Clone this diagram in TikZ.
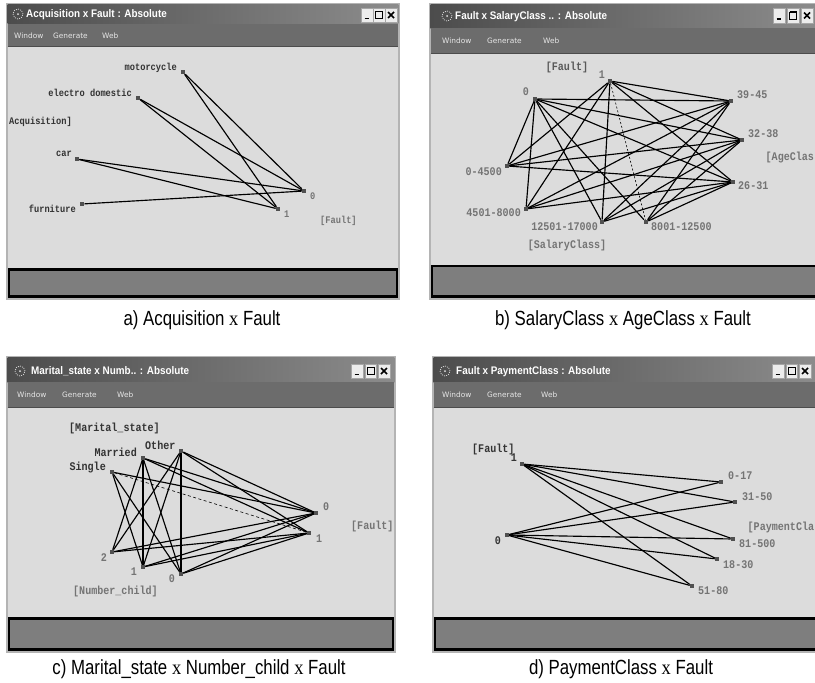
\documentclass[tikz,border=0pt]{standalone}
\usepackage{fontspec}
\setmainfont{Liberation Sans}
\newfontfamily\labfont[FakeStretch=0.86]{Liberation Mono}
\newfontfamily\capfont[FakeStretch=0.82]{Liberation Sans}
\newfontfamily\xfont[FakeStretch=0.9]{Liberation Serif}
\newfontfamily\titlefont[FakeStretch=0.9]{Liberation Sans}
\newfontfamily\menufont{DejaVu Sans}
\usetikzlibrary{calc}

\definecolor{canvasbg}{HTML}{DCDCDC}
\definecolor{tdark}{HTML}{4C4C4C}
\definecolor{tlight}{HTML}{8C8C8C}
\definecolor{menubg}{HTML}{6C6C6C}
\definecolor{statusbg}{HTML}{7E7E7E}
\definecolor{sqgray}{HTML}{505050}
\definecolor{labdark}{HTML}{333333}
\definecolor{labgray}{HTML}{747474}
\definecolor{menutext}{HTML}{E6E6E6}
\definecolor{framegray}{HTML}{B4B4B4}
\definecolor{btnbg}{HTML}{ECECEC}

\tikzset{
  winframe/.style={fill=canvasbg, draw=framegray, line width=1.2pt},
  menubar/.style={fill=menubg},
  statusbox/.style={fill=statusbg, draw=black, line width=2.6pt},
  titletext/.style={anchor=west, inner sep=0pt, text=white, font=\titlefont\bfseries\fontsize{11}{11}\selectfont},
  menuitem/.style={anchor=west, inner sep=0pt, text=menutext, font=\menufont\fontsize{7.4}{8}\selectfont},
  btn/.style={rectangle, fill=btnbg, draw=gray!70, line width=0.4pt, minimum width=11.5pt, minimum height=14.5pt, inner sep=0pt},
  glyph/.style={line width=1.5pt, black},
  sq/.style={rectangle, fill=sqgray, minimum size=4.2pt, inner sep=0pt},
  edge/.style={line width=1.15pt, black},
  dedge/.style={line width=0.6pt, black, dash pattern=on 2pt off 2pt},
  lbl/.style={inner sep=0pt, text=labdark, font=\labfont\bfseries\fontsize{11.7}{12}\selectfont},
  lblg/.style={lbl, text=labgray},
  lbla/.style={lbl, font=\labfont\bfseries\fontsize{10.1}{10}\selectfont},
  lblag/.style={lbla, text=labgray},
  captext/.style={inner sep=0pt, font=\capfont\fontsize{20.5}{21}\selectfont}
}

% three title-bar buttons: name prefix, x of first centre, y centre, pitch
\newcommand\winbuttons[4]{%
  \node[btn] (#1min) at (#2,#3) {};
  \node[btn] (#1max) at (#2+#4,#3) {};
  \node[btn] (#1cls) at (#2+2*#4,#3) {};
  \draw[glyph] ([shift={(-2.5,3.5)}]#1min.center) -- ++(4.5,0);
  \draw[line width=0.8pt] ([shift={(-3.5,-3.5)}]#1max.center) rectangle ++(7,7);
  \draw[line width=1.4pt] ([shift={(-3.5,-3.5)}]#1max.center) -- ++(7,0);
  \draw[glyph] ([shift={(-3,-3)}]#1cls.center) -- ++(6,6)
               ([shift={(3,-3)}]#1cls.center) -- ++(-6,6);
}
% small sparkle icon at the left of a title bar
\newcommand\winicon[2]{%
  \draw[white!75!gray, line width=0.7pt, dash pattern=on 1pt off 1.2pt] (#1,#2) circle (5pt);
  \fill[white!80!gray] (#1,#2) circle (1pt);
}

\begin{document}
\begin{tikzpicture}[x=1pt, y=-1pt]
\useasboundingbox (0,0) rectangle (815,683);
\fill[white] (0,0) rectangle (815,683);

% ---------------- window a ----------------
\draw[winframe] (7,4) rectangle (399,299);
\shade[left color=tdark, right color=tlight] (7.6,4.6) rectangle (398.4,23.5);
\fill[menubar] (7.6,23.5) rectangle (398.4,46);
\draw[black!70, line width=0.8pt] (7.6,46.4) -- (398.4,46.4);
\draw[statusbox] (9,269.5) rectangle (397,296.3);
\winicon{18}{14}
\node[titletext] (ta) at (26,14.5) {Acquisition x Fault : Absolute};
\winbuttons{a}{367}{15}{12}
\node[menuitem] (wa1) at (14,36) {Window};
\node[menuitem] (wa2) at (53,36) {Generate};
\node[menuitem] (wa3) at (102,36) {Web};

\node[sq] (am) at (183,72) {};
\node[sq] (ae) at (138,98) {};
\node[sq] (ac) at (77,159) {};
\node[sq] (af) at (82,204) {};
\node[sq] (a0) at (304,191) {};
\node[sq] (a1) at (278,209) {};
\foreach \s/\t in {am/a0, am/a1, ae/a0, ae/a1, ac/a0, ac/a1, af/a0}
  \draw[edge] (\s) -- (\t);
\node[lbla, anchor=east] (lam) at (177,68) {motorcycle};
\node[lbla, anchor=east] (lae) at (132,93) {electro domestic};
\node[lbla, anchor=west] (laq) at (9,122) {Acquisition]};
\node[lbla, anchor=east] (lac) at (72,154) {car};
\node[lbla, anchor=east] (laf) at (76,209) {furniture};
\node[lblag, anchor=west] (la0) at (310,196) {0};
\node[lblag, anchor=west] (la1) at (284,214) {1};
\node[lblag, anchor=west] (laF) at (320,221) {[Fault]};
\node[captext] (capa) at (202,320) {a) Acquisition {\xfont x} Fault};

% ---------------- window b ----------------
\draw[winframe] (430,4) rectangle (820,299);
\shade[left color=tdark, right color=tlight] (430.6,4.6) rectangle (819,28);
\fill[menubar] (430.6,28) rectangle (819,53);
\draw[black!70, line width=0.8pt] (430.6,53.4) -- (819,53.4);
\draw[statusbox] (432,266) rectangle (818,296.3);
\winicon{447}{16}
\node[titletext] (tb) at (455,16.5) {Fault x SalaryClass .. : Absolute};
\winbuttons{b}{779}{15.5}{14}
\node[menuitem] (wb1) at (442,40.5) {Window};
\node[menuitem] (wb2) at (487,40.5) {Generate};
\node[menuitem] (wb3) at (543,40.5) {Web};

\node[sq] (b1) at (610,81) {};
\node[sq] (b0) at (535,99) {};
\node[sq] (bA1) at (731,101) {};
\node[sq] (bA2) at (742,140) {};
\node[sq] (bA3) at (733,182) {};
\node[sq] (bS1) at (507,166) {};
\node[sq] (bS2) at (526,209) {};
\node[sq] (bS3) at (602,222) {};
\node[sq] (bS4) at (646,222) {};
\foreach \f in {b0,b1}
  \foreach \t in {bA1,bA2,bA3,bS1,bS2,bS3}
    \draw[edge] (\f) -- (\t);
\draw[edge] (b0) -- (bS4);
\draw[dedge] (b1) -- (bS4);
\foreach \s in {bS1,bS2,bS3,bS4}
  \foreach \t in {bA1,bA2,bA3}
    \draw[edge] (\s) -- (\t);
\node[lbl, text=black!65] (lbF) at (567,67) {[Fault]};
\node[lblg] (lb1) at (602,75) {1};
\node[lblg] (lb0) at (526,92) {0};
\node[lblg, anchor=west] (lbA1) at (737,95) {39-45};
\node[lblg, anchor=west] (lbA2) at (748,134) {32-38};
\node[lblg, anchor=west] (lbA) at (765.5,157) {[AgeClas};
\node[lblg, anchor=west] (lbA3) at (738,186) {26-31};
\node[lblg, anchor=east] (lbS1) at (502,172) {0-4500};
\node[lblg, anchor=east] (lbS2) at (521,213) {4501-8000};
\node[lblg, anchor=east] (lbS3) at (598,227) {12501-17000};
\node[lblg, anchor=west] (lbS4) at (651,227) {8001-12500};
\node[lblg] (lbS) at (567,245) {[SalaryClass]};
\node[captext] (capb) at (623,320) {b) SalaryClass {\xfont x} AgeClass {\xfont x} Fault};

% ---------------- window c ----------------
\draw[winframe] (7,357) rectangle (395,652);
\shade[left color=tdark, right color=tlight] (7.6,357.6) rectangle (394.4,382);
\fill[menubar] (7.6,382) rectangle (394.4,407);
\draw[black!70, line width=0.8pt] (7.6,407.4) -- (394.4,407.4);
\draw[statusbox] (9,618.5) rectangle (393,649.3);
\winicon{20}{371}
\node[titletext] (tc) at (31,371.5) {Marital\_state x Numb.. : Absolute};
\winbuttons{c}{357}{371}{13.5}
\node[menuitem] (wc1) at (17,395) {Window};
\node[menuitem] (wc2) at (62,395) {Generate};
\node[menuitem] (wc3) at (117,395) {Web};

\node[sq] (cO) at (181,451) {};
\node[sq] (cM) at (143,458) {};
\node[sq] (cS) at (112,472) {};
\node[sq] (cF0) at (316,513) {};
\node[sq] (cF1) at (309,533) {};
\node[sq] (cN2) at (112,552) {};
\node[sq] (cN1) at (143,567) {};
\node[sq] (cN0) at (181,574) {};
\foreach \s/\t in {cM/cN2, cO/cN2, cS/cN1, cM/cN1, cO/cN1, cS/cN0, cM/cN0, cO/cN0,
                   cS/cF0, cM/cF0, cM/cF1, cO/cF0, cO/cF1,
                   cN2/cF0, cN2/cF1, cN1/cF0, cN1/cF1, cN0/cF0, cN0/cF1}
  \draw[edge] (\s) -- (\t);
\draw[line width=0.6pt, black, dash pattern=on 3pt off 2.5pt] (cS) -- (cF1);
\node[lbl, anchor=west] (lcMs) at (69,428) {[Marital\_state]};
\node[lbl, anchor=west] (lcO) at (145,445) {Other};
\node[lbl, anchor=east] (lcM) at (137,452) {Married};
\node[lbl, anchor=east] (lcS) at (106,467) {Single};
\node[lblg, anchor=west] (lcF0) at (323,507) {0};
\node[lblg, anchor=west] (lcF1) at (316,539) {1};
\node[lblg, anchor=west] (lcF) at (351,526) {[Fault]};
\node[lblg] (lcN2) at (104,558) {2};
\node[lblg] (lcN1) at (134,572) {1};
\node[lblg] (lcN0) at (172,579) {0};
\node[lblg, anchor=west] (lcN) at (73,591) {[Number\_child]};
\node[captext] (capc) at (199,669) {c) Marital\_state {\xfont x} Number\_child {\xfont x} Fault};

% ---------------- window d ----------------
\draw[winframe] (433,357) rectangle (820,652);
\shade[left color=tdark, right color=tlight] (433.6,357.6) rectangle (819,382);
\fill[menubar] (433.6,382) rectangle (819,407);
\draw[black!70, line width=0.8pt] (433.6,407.4) -- (819,407.4);
\draw[statusbox] (435,618.5) rectangle (818,649.3);
\winicon{445}{371}
\node[titletext] (td) at (456,371.5) {Fault x PaymentClass : Absolute};
\winbuttons{d}{778}{371}{13.5}
\node[menuitem] (wd1) at (442,395) {Window};
\node[menuitem] (wd2) at (487,395) {Generate};
\node[menuitem] (wd3) at (541,395) {Web};

\node[sq] (d1) at (522,464) {};
\node[sq] (d0) at (507,535) {};
\node[sq] (dP1) at (721,482) {};
\node[sq] (dP2) at (735,502) {};
\node[sq] (dP3) at (733,539) {};
\node[sq] (dP4) at (717,559) {};
\node[sq] (dP5) at (692,586) {};
\foreach \f in {d0,d1}
  \foreach \t in {dP1,dP2,dP3,dP4,dP5}
    \draw[edge] (\f) -- (\t);
\node[lbl, anchor=west] (ldF) at (472,449) {[Fault]};
\node[lbl] (ld1) at (514,458) {1};
\node[lbl] (ld0) at (498,541) {0};
\node[lblg, anchor=west] (ldP1) at (728,476) {0-17};
\node[lblg, anchor=west] (ldP2) at (742,497) {31-50};
\node[lblg, anchor=west] (ldP) at (747.5,527) {[PaymentCla};
\node[lblg, anchor=west] (ldP3) at (739,544) {81-500};
\node[lblg, anchor=west] (ldP4) at (723,565) {18-30};
\node[lblg, anchor=west] (ldP5) at (698,591) {51-80};
\node[captext] (capd) at (621,669) {d) PaymentClass {\xfont x} Fault};
\end{tikzpicture}
\end{document}
